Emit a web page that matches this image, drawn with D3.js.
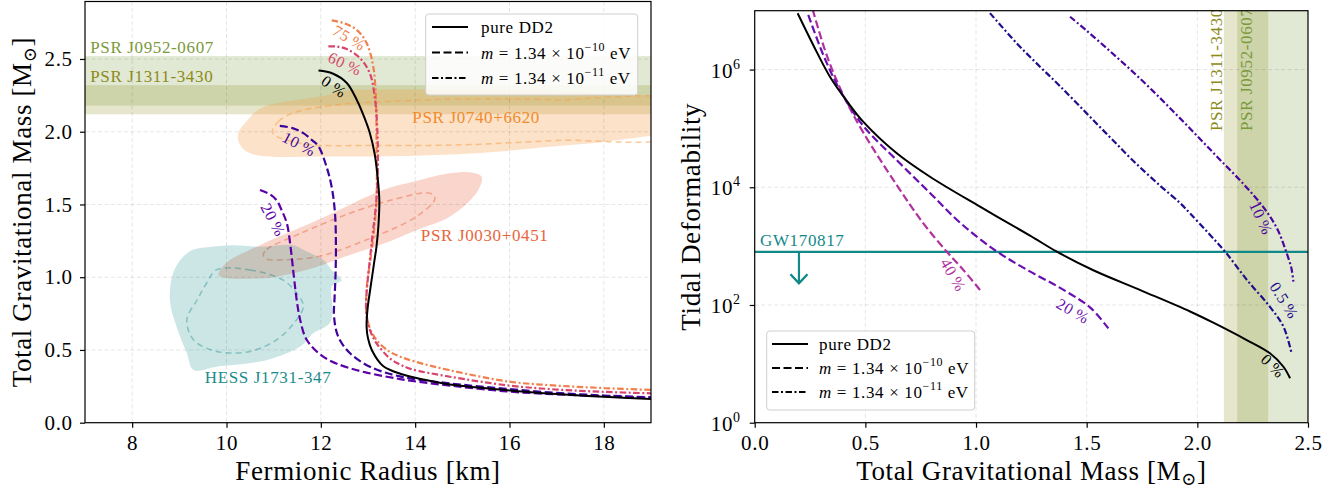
<!DOCTYPE html>
<html>
<head>
<meta charset="utf-8">
<script src="https://cdn.jsdelivr.net/npm/d3@7"></script>
<style>
  body { margin: 0; background: #fff; }
  svg { display: block; font-family: "Liberation Serif", "DejaVu Serif", serif; letter-spacing: 0.04em; }
</style>
</head>
<body>
<svg id="fig" width="1343" height="493"></svg>
<script>
// ---- left panel: fermionic radius [km] vs total gravitational mass [Msun] ----
const radiusTicks = [8, 10, 12, 14, 16, 18];
const massTicksL = [0, 0.5, 1, 1.5, 2, 2.5];

const mrPure = [[11.95,2.42],[12.25,2.40],[12.55,2.335],[12.76,2.22],[12.92,2.10],[13.04,1.99],[13.14,1.85],[13.20,1.70],[13.24,1.53],[13.22,1.35],[13.18,1.21],[13.13,1.10],[13.04,0.90],[12.99,0.78],[12.97,0.66],[13.0,0.58],[13.08,0.50],[13.32,0.39],[13.7,0.335],[14.2,0.295],[14.74,0.262],[15.4,0.24],[16.05,0.22],[17,0.197],[18,0.178],[19,0.163]];
const mr10 = [[11.13,2.04],[11.4,2.025],[11.63,1.99],[11.82,1.94],[11.95,1.90],[12.12,1.76],[12.23,1.62],[12.30,1.44],[12.32,1.21],[12.31,1.0],[12.29,0.85],[12.28,0.73],[12.37,0.59],[12.62,0.477],[13.04,0.385],[13.68,0.318],[14.74,0.27],[15.87,0.235],[17,0.205],[18,0.187],[19,0.175]];
const mr20 = [[10.71,1.60],[10.92,1.57],[11.06,1.53],[11.17,1.46],[11.28,1.37],[11.35,1.23],[11.43,1.0],[11.49,0.84],[11.56,0.71],[11.70,0.57],[12.05,0.454],[12.62,0.374],[13.68,0.30],[14.74,0.255],[15.94,0.215],[17,0.195],[18,0.182],[19,0.172]];
const mr60 = [[12.16,2.586],[12.35,2.585],[12.55,2.568],[12.83,2.506],[13.04,2.40],[13.15,2.22],[13.20,1.99],[13.21,1.76],[13.17,1.5],[13.10,1.3],[13.04,1.12],[12.97,0.89],[12.96,0.775],[13.0,0.68],[13.06,0.62],[13.18,0.546],[13.47,0.44],[13.68,0.40],[13.9,0.37],[14.74,0.316],[16.0,0.255],[17,0.228],[18,0.212],[19,0.202]];
const mr75 = [[12.23,2.765],[12.5,2.745],[12.76,2.70],[12.97,2.61],[13.11,2.45],[13.17,2.22],[13.18,1.99],[13.18,1.53],[13.12,1.3],[13.05,1.12],[12.98,0.95],[12.96,0.80],[12.98,0.72],[13.05,0.64],[13.2,0.56],[13.45,0.49],[13.68,0.454],[14.0,0.42],[14.74,0.36],[16.0,0.282],[17,0.255],[18,0.238],[19,0.225]];

const bandJ1311 = [2.12, 2.32];
const bandJ0952 = [2.18, 2.52];
const j0740Outer = [[10.25,1.99],[10.45,2.08],[10.71,2.16],[11.2,2.205],[11.54,2.22],[12.12,2.25],[12.45,2.28],[13.5,2.29],[14.26,2.29],[15.5,2.285],[16.98,2.28],[18.5,2.25],[19.5,2.22],[19.5,1.98],[18.98,1.97],[18,1.93],[16.98,1.90],[16,1.87],[15.17,1.85],[14,1.835],[12.83,1.83],[12.0,1.83],[10.71,1.835],[10.4,1.87],[10.27,1.92]];
const j0740Inner = [[10.97,2.0],[11.1,2.07],[11.42,2.13],[12.0,2.17],[12.5,2.19],[13.54,2.21],[15,2.225],[17,2.22],[19.5,2.2],[19.5,1.98],[17,1.94],[15,1.91],[13,1.905],[11.8,1.91],[11.3,1.94],[11.05,1.97]];
const j0030Outer = [[9.83,1.016],[10.0,1.10],[10.64,1.21],[11.91,1.39],[13.32,1.60],[14.0,1.66],[14.74,1.715],[15.2,1.72],[15.41,1.69],[15.30,1.58],[14.74,1.417],[14.0,1.32],[13.32,1.23],[12.5,1.14],[11.91,1.07],[11.0,1.0],[10.5,0.99],[10.0,0.995]];
const j0030Inner = [[10.78,1.153],[10.85,1.19],[11.56,1.30],[12.62,1.44],[13.5,1.53],[14.31,1.578],[14.42,1.54],[14.03,1.417],[12.97,1.257],[11.91,1.14],[11.2,1.12],[10.85,1.125]];
const hessOuter = [[9.08,1.14],[9.30,1.19],[9.7,1.21],[10.14,1.22],[10.71,1.21],[11.42,1.22],[11.70,1.176],[12.05,1.12],[12.23,1.05],[12.44,0.98],[12.23,0.935],[12.25,0.775],[12.19,0.684],[11.84,0.615],[11.56,0.523],[10.85,0.43],[9.79,0.385],[9.30,0.362],[9.16,0.477],[8.94,0.66],[8.80,0.84],[8.87,1.03]];
const hessInner = [[9.79,1.05],[10.5,1.05],[11.2,0.98],[11.49,0.89],[11.63,0.80],[11.42,0.68],[11.06,0.57],[10.5,0.49],[9.79,0.49],[9.30,0.57],[9.16,0.71],[9.37,0.84],[9.58,0.96]];

// ---- right panel: total gravitational mass vs tidal deformability ----
const massTicksR = [0, 0.5, 1, 1.5, 2, 2.5];
const lambdaTicks = [1, 1e2, 1e4, 1e6];
const lamPure = [[0.194,9.06e6],[0.28,2.0e6],[0.34,7.57e5],[0.416,2.93e5],[0.491,1.29e5],[0.642,3.78e4],[0.792,1.51e4],[1.018,4.68e3],[1.244,1.51e3],[1.365,805],[1.53,389],[1.75,174],[1.967,77.6],[2.072,50.1],[2.223,25.4],[2.328,15.1],[2.389,8.93],[2.419,5.68]];
const lam20 = [[0.242,8.47e6],[0.31,1.77e6],[0.385,4.5e5],[0.491,1.10e5],[0.642,2.88e4],[0.792,8.0e3],[0.928,2.5e3],[1.086,851],[1.229,398],[1.38,195],[1.515,91],[1.598,40]];
const lam40 = [[0.262,1.05e7],[0.325,1.77e6],[0.40,3.7e5],[0.491,8.47e4],[0.642,1.09e4],[0.762,2.44e3],[0.868,805],[0.943,393],[1.018,180]];
const lam10 = [[1.425,7.9e6],[1.50,4.57e6],[1.60,2.14e6],[1.70,9.8e5],[1.80,4.3e5],[1.90,1.8e5],[2.0,7.4e4],[2.10,3.0e4],[2.21,1.12e4],[2.30,4.5e3],[2.36,2.0e3],[2.40,830],[2.425,420],[2.434,250]];
const lam05 = [[1.063,9.1e6],[1.184,2.8e6],[1.289,1.12e6],[1.38,5.2e5],[1.5,1.8e5],[1.605,7.1e4],[1.711,2.8e4],[1.831,1.07e4],[1.922,5.4e3],[1.967,3.6e3],[2.05,1.66e3],[2.125,810],[2.223,270],[2.328,93],[2.389,43],[2.426,15]];
const gwLambda = 800;
const gwArrow = [0.2, 234];

const legendExp = ['\u221210', '\u221211'];

// ---- drawing ----
const svg = d3.select('#fig');
const defs = svg.append('defs');

const boxL = {x0: 85, x1: 651, y0: 1.5, y1: 422.7};
const boxR = {x0: 754.7, x1: 1308, y0: 10.7, y1: 422.7};

let sxL = d3.scaleLinear().domain([7, 19]).range([boxL.x0, boxL.x1]);
let syL = d3.scaleLinear().domain([0, 2.895]).range([boxL.y1, boxL.y0]);
let sxR = d3.scaleLinear().domain([0, 2.5]).range([boxR.x0, boxR.x1]);
let syR = d3.scaleLog().domain([1, 1e7]).range([boxR.y1, boxR.y0]);

const DASH = '8,3.5';
const DASHDOT = '6.5,2.5,2,2.5';
const col = {l10: '#3d049b', l20: '#5c01a6', l60: '#d8456c', l75: '#f0804e',
             r05: '#1c0f8c', r10: '#4a06a0', r20: '#6a0fb0', r40: '#b0319f',
             teal: '#128989'};

function clipGroup(id, box) {
  defs.append('clipPath').attr('id', id).append('rect')
    .attr('x', box.x0).attr('y', box.y0)
    .attr('width', box.x1 - box.x0).attr('height', box.y1 - box.y0);
  return svg.append('g').attr('clip-path', `url(#${id})`);
}

let openLine = (sx, sy) => d3.line().x(d => sx(d[0])).y(d => sy(d[1])).curve(d3.curveCatmullRom.alpha(0.5));
let closedLine = (sx, sy) => d3.line().x(d => sx(d[0])).y(d => sy(d[1])).curve(d3.curveCatmullRomClosed.alpha(0.5));

function grid(g, box, sx, sy, xt, yt) {
  let gg = g.append('g').attr('stroke', '#000').attr('stroke-opacity', 0.1)
    .attr('stroke-width', 1).attr('stroke-dasharray', '4,2.5');
  xt.forEach(t => gg.append('line').attr('x1', sx(t)).attr('x2', sx(t)).attr('y1', box.y0).attr('y2', box.y1));
  yt.forEach(t => gg.append('line').attr('y1', sy(t)).attr('y2', sy(t)).attr('x1', box.x0).attr('x2', box.x1));
}

function curve(g, line, data, color, dash) {
  g.append('path').attr('d', line(data)).attr('fill', 'none')
    .attr('stroke', color).attr('stroke-width', dash ? 2.2 : 2)
    .attr('stroke-dasharray', dash);
}

function region(g, line, outer, inner, color, alpha) {
  g.append('path').attr('d', line(outer)).attr('fill', color).attr('fill-opacity', alpha);
  g.append('path').attr('d', line(inner)).attr('fill', 'none').attr('stroke', color)
    .attr('stroke-opacity', alpha * 1.8).attr('stroke-width', 1.5).attr('stroke-dasharray', '6,4');
}

function label(g, x, y, angle, txt, color, size, anchor) {
  g.append('text').attr('transform', `translate(${x},${y}) rotate(${angle})`)
    .attr('text-anchor', anchor || 'middle')
    .attr('dominant-baseline', anchor ? null : 'central')
    .attr('fill', color).attr('font-size', size).text(txt);
}

function styleAxis(ax) {
  ax.attr('font-family', null).attr('font-size', null);
  ax.select('.domain').remove();
  ax.selectAll('line').attr('stroke-width', 1.2);
  ax.selectAll('text').attr('font-size', 21).attr('fill', '#000');
}

function massLabel(x, y, angle) {
  let t = svg.append('text').attr('transform', `translate(${x},${y}) rotate(${angle})`)
    .attr('text-anchor', 'middle').attr('font-size', 27);
  t.append('tspan').text('Total Gravitational Mass [M');
  t.append('tspan').attr('font-size', 18).attr('dy', 5).text('\u2299');
  t.append('tspan').attr('dy', -5).text(']');
}

function legend(x, y, w, h, rowY, lx0, lx1, tx) {
  let g = svg.append('g');
  g.append('rect').attr('x', x).attr('y', y).attr('width', w).attr('height', h).attr('rx', 3)
    .attr('fill', '#fff').attr('fill-opacity', 0.85).attr('stroke', '#cfcfcf').attr('stroke-width', 1);
  [null, DASH, DASHDOT].forEach((d, i) => {
    g.append('line').attr('x1', lx0).attr('x2', lx1).attr('y1', rowY[i]).attr('y2', rowY[i])
      .attr('stroke', '#000').attr('stroke-width', 2.2).attr('stroke-dasharray', d);
    let t = g.append('text').attr('x', tx).attr('y', rowY[i] + 6).attr('font-size', 17);
    if (i === 0) { t.text('pure DD2'); return; }
    t.append('tspan').attr('font-style', 'italic').text('m');
    t.append('tspan').text(' = 1.34 \u00d7 10');
    t.append('tspan').attr('font-size', 12).attr('dy', -8).text(legendExp[i - 1]);
    t.append('tspan').attr('dy', 8).text(' eV');
  });
}

// left panel
let gL = clipGroup('clipL', boxL);
gL.append('rect').attr('x', boxL.x0).attr('width', boxL.x1 - boxL.x0)
  .attr('y', syL(bandJ1311[1])).attr('height', syL(bandJ1311[0]) - syL(bandJ1311[1]))
  .attr('fill', '#808000').attr('fill-opacity', 0.2);
gL.append('rect').attr('x', boxL.x0).attr('width', boxL.x1 - boxL.x0)
  .attr('y', syL(bandJ0952[1])).attr('height', syL(bandJ0952[0]) - syL(bandJ0952[1]))
  .attr('fill', '#6b8e23').attr('fill-opacity', 0.2);
let cl = closedLine(sxL, syL);
region(gL, cl, j0740Outer, j0740Inner, '#f5a04a', 0.3);
region(gL, cl, j0030Outer, j0030Inner, '#ec7552', 0.3);
region(gL, cl, hessOuter, hessInner, '#008080', 0.2);
grid(gL, boxL, sxL, syL, radiusTicks, massTicksL);

let ol = openLine(sxL, syL);
curve(gL, ol, mr20, col.l20, DASH);
curve(gL, ol, mr10, col.l10, DASH);
curve(gL, ol, mr75, col.l75, DASHDOT);
curve(gL, ol, mr60, col.l60, DASHDOT);
curve(gL, ol, mrPure, '#000', null);

label(gL, sxL(12.28), syL(2.31), 35, '0\u2009%', '#000', 16);
label(gL, sxL(11.54), syL(1.915), 28, '10\u2009%', col.l10, 16);
label(gL, sxL(10.99), syL(1.394), 62, '20\u2009%', col.l20, 16);
label(gL, sxL(12.51), syL(2.467), 25, '60\u2009%', col.l60, 16);
label(gL, sxL(12.60), syL(2.645), 30, '75\u2009%', col.l75, 16);

label(gL, sxL(7.11), syL(2.543), 0, 'PSR J0952-0607', '#7a9a3a', 17, 'start');
label(gL, sxL(7.11), syL(2.343), 0, 'PSR J1311-3430', '#8b8b1a', 17, 'start');
label(gL, sxL(13.94), syL(2.061), 0, 'PSR J0740+6620', '#f28c2c', 17, 'start');
label(gL, sxL(14.12), syL(1.25), 0, 'PSR J0030+0451', '#e8653c', 17, 'start');
label(gL, sxL(9.54), syL(0.273), 0, 'HESS J1731-347', '#1a8c8c', 17, 'start');

svg.append('rect').attr('x', boxL.x0).attr('y', boxL.y0).attr('width', boxL.x1 - boxL.x0)
  .attr('height', boxL.y1 - boxL.y0).attr('fill', 'none').attr('stroke', '#000').attr('stroke-width', 1.2);

let axLx = svg.append('g').attr('transform', `translate(0,${boxL.y1})`)
  .call(d3.axisBottom(sxL).tickValues(radiusTicks).tickSize(5).tickFormat(d3.format('d')));
styleAxis(axLx);
axLx.selectAll('text').attr('y', 27.3).attr('dy', null);
let axLy = svg.append('g').attr('transform', `translate(${boxL.x0},0)`)
  .call(d3.axisLeft(syL).tickValues(massTicksL).tickSize(5).tickPadding(7.3).tickFormat(d3.format('.1f')));
styleAxis(axLy);

svg.append('text').attr('x', (boxL.x0 + boxL.x1) / 2).attr('y', 480).attr('text-anchor', 'middle')
  .attr('font-size', 27).text('Fermionic Radius [km]');
massLabel(31, (boxL.y0 + boxL.y1) / 2, -90);

legend(425.7, 14, 212, 81, [27, 52.5, 78], 432, 468, 481);

// right panel
let gR = clipGroup('clipR', boxR);
gR.append('rect').attr('y', boxR.y0).attr('height', boxR.y1 - boxR.y0)
  .attr('x', sxR(bandJ1311[0])).attr('width', sxR(bandJ1311[1]) - sxR(bandJ1311[0]))
  .attr('fill', '#808000').attr('fill-opacity', 0.2);
gR.append('rect').attr('y', boxR.y0).attr('height', boxR.y1 - boxR.y0)
  .attr('x', sxR(bandJ0952[0])).attr('width', sxR(bandJ0952[1]) - sxR(bandJ0952[0]))
  .attr('fill', '#6b8e23').attr('fill-opacity', 0.2);
grid(gR, boxR, sxR, syR, massTicksR, lambdaTicks);

label(gR, sxR(2.112), syR(9e4), -90, 'PSR J1311-3430', '#8b8b1a', 17, 'start');
label(gR, sxR(2.247), syR(9e4), -90, 'PSR J0952-0607', '#7a9a3a', 17, 'start');

gR.append('line').attr('x1', boxR.x0).attr('x2', boxR.x1)
  .attr('y1', syR(gwLambda)).attr('y2', syR(gwLambda))
  .attr('stroke', col.teal).attr('stroke-width', 2.2);
gR.append('line').attr('x1', sxR(gwArrow[0])).attr('x2', sxR(gwArrow[0]))
  .attr('y1', syR(gwLambda)).attr('y2', syR(gwArrow[1]))
  .attr('stroke', col.teal).attr('stroke-width', 2.2);
gR.append('path')
  .attr('d', `M${sxR(gwArrow[0]) - 8.5},${syR(gwArrow[1]) - 9}L${sxR(gwArrow[0])},${syR(gwArrow[1])}L${sxR(gwArrow[0]) + 8.5},${syR(gwArrow[1]) - 9}`)
  .attr('fill', 'none').attr('stroke', col.teal).attr('stroke-width', 2.4);
label(gR, sxR(0.024), syR(gwLambda) - 6, 0, 'GW170817', col.teal, 17, 'start');

let olR = openLine(sxR, syR);
curve(gR, olR, lam05, col.r05, DASHDOT);
curve(gR, olR, lam10, col.r10, DASHDOT);
curve(gR, olR, lam40, col.r40, DASH);
curve(gR, olR, lam20, col.r20, DASH);
curve(gR, olR, lamPure, '#000', null);

label(gR, sxR(2.342), syR(9.2), 45, '0\u2009%', '#000', 16);
label(gR, sxR(2.392), syR(120), 58, '0.5\u2009%', col.r05, 16);
label(gR, sxR(2.288), syR(3000), 65, '10\u2009%', col.r10, 16);
label(gR, sxR(1.438), syR(79), 30, '20\u2009%', col.r20, 16);
label(gR, sxR(0.897), syR(324), 60, '40\u2009%', col.r40, 16);

svg.append('rect').attr('x', boxR.x0).attr('y', boxR.y0).attr('width', boxR.x1 - boxR.x0)
  .attr('height', boxR.y1 - boxR.y0).attr('fill', 'none').attr('stroke', '#000').attr('stroke-width', 1.2);

let axRx = svg.append('g').attr('transform', `translate(0,${boxR.y1})`)
  .call(d3.axisBottom(sxR).tickValues(massTicksR).tickSize(5).tickFormat(d3.format('.1f')));
styleAxis(axRx);
axRx.selectAll('text').attr('y', 27.3).attr('dy', null);
let axRy = svg.append('g').attr('transform', `translate(${boxR.x0},0)`)
  .call(d3.axisLeft(syR).tickValues(lambdaTicks).tickSize(5).tickPadding(9).tickFormat(''));
styleAxis(axRy);
axRy.selectAll('.tick text').each(function(d) {
  let t = d3.select(this).attr('dy', '0.36em');
  t.append('tspan').text('10');
  t.append('tspan').attr('font-size', 14).attr('dy', -9).text(Math.round(Math.log10(d)));
});

massLabel((boxR.x0 + boxR.x1) / 2, 480, 0);
svg.append('text').attr('transform', `translate(700,${(boxR.y0 + boxR.y1) / 2}) rotate(-90)`)
  .attr('text-anchor', 'middle').attr('font-size', 27).text('Tidal Deformability');

legend(766.7, 331, 208, 79, [344, 368, 392], 772, 808, 819);
</script>
</body>
</html>
